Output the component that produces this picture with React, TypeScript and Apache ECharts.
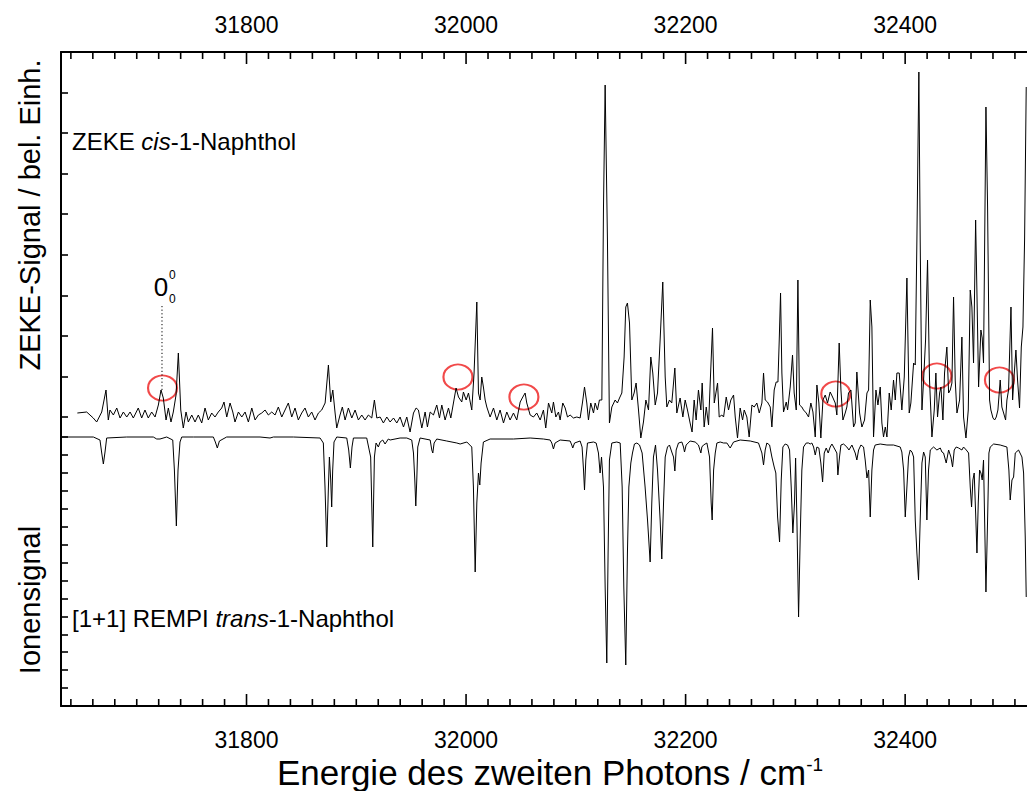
import React, { useEffect, useRef } from "react";
import * as echarts from "echarts";

const X_MIN = 31631;
const X_MAX = 32511;
const majorTicks = [31800, 32000, 32200, 32400];
const minorTicks: number[] = [];
for (let v = 31640; v <= 32500; v += 20) if (!majorTicks.includes(v)) minorTicks.push(v);

// ZEKE signal of cis-1-Naphthol (arb. units) vs. photon energy (cm^-1)
const zeke: [number, number][] = [
  [31645.9,4],[31654.4,5],[31660.4,-1],[31663.5,-5],[31668.1,5],[31672.0,27],[31674.1,-3],[31675.6,7],[31678.7,2],[31681.8,9],[31684.8,-1],[31687.8,5],[31690.9,0],[31693.9,5],[31696.9,-1],[31701.4,9],[31704.5,-1],[31707.5,7],[31710.5,-1],[31713.6,5],[31716.7,0],[31719.7,12],[31722.1,27],[31724.2,19],[31726.7,-3],[31728.8,9],[31731.2,-5],[31733.3,5],[31735.8,22],[31737.9,64],[31740.1,7],[31742.4,-11],[31744.9,5],[31747.0,-5],[31750.1,2],[31753.1,-5],[31756.1,2],[31759.2,-6],[31762.2,9],[31765.2,-3],[31768.3,4],[31771.3,0],[31774.3,5],[31777.4,9],[31779.5,15],[31782.0,0],[31785.0,14],[31787.5,5],[31789.5,-5],[31792.6,5],[31795.7,0],[31798.7,5],[31801.7,-5],[31804.8,9],[31807.8,-3],[31810.8,2],[31813.9,4],[31816.9,7],[31819.9,2],[31823.0,5],[31826.0,2],[31829.0,10],[31832.1,0],[31835.1,7],[31838.1,14],[31841.2,0],[31844.2,9],[31847.2,-3],[31850.3,4],[31853.3,9],[31856.3,0],[31859.4,5],[31862.4,-3],[31865.5,4],[31868.5,7],[31871.6,14],[31874.6,52],[31876.7,15],[31878.6,27],[31880.7,4],[31882.2,-11],[31885.2,2],[31887.3,10],[31889.8,-3],[31892.8,9],[31895.9,-1],[31898.9,7],[31901.9,-3],[31905.0,2],[31908.0,-3],[31911.0,2],[31914.1,-1],[31916.5,17],[31918.7,-1],
  [31921.7,0],[31924.7,-6],[31927.8,0],[31930.8,-5],[31933.9,-1],[31936.9,-6],[31939.9,0],[31943.0,-10],[31946.0,0],[31949.0,-15],[31952.1,4],[31954.5,9],[31956.6,7],[31959.7,-11],[31962.7,5],[31964.8,-10],[31967.3,5],[31970.3,2],[31973.3,12],[31975.8,-1],[31977.9,12],[31980.9,-3],[31984.0,9],[31986.1,-1],[31988.5,14],[31990.9,29],[31993.1,20],[31996.1,15],[31997.6,25],[32000.1,17],[32002.2,24],[32005.2,7],[32007.3,44],[32009.8,115],[32011.3,24],[32012.8,17],[32014.3,40],[32015.8,30],[32017.4,17],[32018.9,10],[32021.9,0],[32025.0,9],[32028.0,-3],[32031.0,7],[32034.1,-6],[32037.1,5],[32040.1,-3],[32043.2,4],[32046.2,-3],[32049.3,15],[32051.7,20],[32053.8,24],[32055.3,14],[32058.4,2],[32061.4,0],[32064.4,4],[32067.5,-3],[32070.5,7],[32072.6,-11],[32075.1,14],[32078.1,4],[32079.6,15],[32081.8,0],[32084.2,5],[32085.7,-3],[32088.1,14],[32090.3,9],[32092.4,0],[32094.8,2],[32097.8,-1],[32100.9,0],[32103.9,-1],[32106.0,14],[32107.9,30],[32110.0,14],[32111.5,-3],[32113.6,14],[32116.1,4],[32117.6,14],[32119.7,7],[32121.5,17],[32123.7,17],[32125.2,210],[32126.7,332],[32128.8,177],[32130.6,-6],[32132.8,10],[32135.8,17],[32137.9,14],[32139.8,19],[32141.9,24],[32144.0,60],[32145.5,110],[32147.0,114],[32148.9,94],[32151.0,17],[32153.1,24],[32154.9,34],[32157.1,7],[32159.2,-21],[32161.6,-5],[32163.8,17],[32166.2,7],[32168.3,60],[32170.1,44],[32172.3,12],[32174.4,24],[32176.8,77],[32179.2,135],[32181.4,40],[32182.9,10],[32185.3,17],[32187.4,14],[32190.2,49],[32192.0,4],[32195.0,19],[32197.5,0],[32199.6,17],[32201.7,7],[32204.1,-6],[32205.9,-15],[32207.8,17],[32209.6,-3],[32211.7,27],[32213.9,7],[32215.1,34],
  [32216.9,-10],[32218.8,10],[32220.9,-8],[32222.4,34],[32224.5,89],[32226.1,14],[32227.6,24],[32229.1,34],[32230.6,0],[32233.0,2],[32234.6,0],[32237.0,20],[32239.1,7],[32241.2,17],[32243.7,22],[32245.2,0],[32247.3,-21],[32249.7,9],[32251.9,-3],[32253.4,7],[32255.8,0],[32257.9,-20],[32260.4,12],[32262.5,10],[32264.9,14],[32267.1,4],[32269.5,14],[32271.0,44],[32272.5,17],[32274.6,15],[32277.1,10],[32278.6,-10],[32280.7,27],[32282.5,35],[32284.1,35],[32285.3,77],[32286.5,124],[32287.7,44],[32289.2,5],[32291.7,15],[32292.9,7],[32295.3,30],[32297.4,62],[32298.9,24],[32300.8,7],[32302.3,137],[32303.8,12],[32305.9,10],[32307.4,7],[32309.9,4],[32312.0,0],[32314.1,14],[32316.0,5],[32318.1,-20],[32319.6,32],[32321.4,14],[32323.2,-21],[32325.1,17],[32327.2,22],[32329.3,14],[32331.7,25],[32333.9,20],[32336.3,14],[32337.8,2],[32339.9,74],[32341.5,27],[32343.3,-3],[32345.4,4],[32346.9,10],[32348.4,24],[32350.6,27],[32353.0,-10],[32354.5,-6],[32356.0,45],[32358.5,4],[32360.6,-10],[32363.0,-3],[32365.2,24],[32366.7,27],[32368.2,117],[32369.7,90],[32371.2,-20],[32373.4,27],[32375.2,12],[32377.3,30],[32378.8,-6],[32380.3,-20],[32381.9,-10],[32383.4,-20],[32385.5,24],[32387.3,7],[32389.4,37],[32391.0,17],[32392.5,44],[32394.6,44],[32397.0,7],[32399.2,40],[32401.6,139],[32403.7,4],[32405.2,14],[32407.7,54],[32409.2,52],[32410.7,177],[32412.5,345],[32413.7,177],[32415.3,7],[32416.8,37],[32418.6,77],[32420.4,157],[32422.2,37],[32424.4,-20],[32426.5,7],[32428.0,44],[32429.5,0],[32431.4,24],[32432.6,30],[32434.4,-3],[32435.9,44],[32438.0,70],[32439.6,24],[32441.1,27],[32442.6,34],[32444.1,120],[32445.6,37],[32447.2,4],[32449.6,17],[32451.7,80],[32453.2,0],[32455.4,-21],[32457.5,7],[32459.3,127],[32460.8,110],[32462.3,54],[32464.2,197],[32465.4,124],[32466.9,30],[32469.0,87],[32470.2,79],[32471.4,54],[32473.6,310],[32475.1,210],[32476.9,17],[32478.1,7],[32480.0,-1],[32481.5,-3],[32483.0,0],[32484.5,7],[32486.6,37],[32488.1,10],[32489.7,4],[32491.5,-3],[32492.7,17],[32494.2,27],[32496.4,110],[32497.9,17],[32499.4,44],[32500.9,67],[32502.4,37],[32504.2,9],[32505.8,70],[32507.3,90],[32508.8,177],[32510.3,330]
];

// [1+1] REMPI ion signal of trans-1-Naphthol (arb. units, drawn downwards)
const rempi: [number, number][] = [
  [31631,0],[31660.5,0],[31666.5,-3],[31668.1,-16],[31669.6,-27],[31671.1,-15],[31672.6,-1],[31690.8,0],[31715.1,0],[31718.2,-2],[31721.2,-2],[31727.3,0],[31732.8,-3],[31734.3,-33],[31736.1,-89],[31737.6,-33],[31739.4,-5],[31741.0,0],[31751.6,0],[31769.8,0],[31771.6,-5],[31773.4,-11],[31775.3,-4],[31781.9,0],[31812.3,0],[31821.4,-1],[31824.5,0],[31842.7,0],[31867.0,-1],[31870.0,-6],[31871.5,-50],[31873.1,-110],[31874.6,-50],[31875.5,-20],[31876.7,-43],[31877.6,-70],[31878.5,-33],[31879.7,-5],[31882.2,0],[31891.3,-1],[31893.1,-13],[31894.6,-31],[31896.1,-10],[31897.4,-1],[31909.5,-1],[31913.1,-20],[31915.0,-110],[31916.5,-20],[31918.0,-6],[31920.1,-10],[31921.7,-5],[31924.1,-3],[31926.2,-7],[31929.2,-2],[31930.8,-3],[31939.9,-1],[31946.0,-1],[31950.5,-3],[31952.1,-16],[31953.3,-43],[31954.2,-69],[31955.1,-43],[31956.0,-10],[31958.1,-1],[31967.3,-3],[31968.8,-13],[31969.7,-16],[31970.9,-6],[31973.3,-2],[31982.4,-4],[31991.6,-6],[31994.6,-7],[32000.7,-5],[32005.2,-10],[32006.7,-50],[32008.3,-135],[32009.8,-66],[32011.3,-36],[32012.5,-48],[32013.7,-26],[32015.8,-5],[32021.9,-2],[32043.2,-2],[32058.4,-1],[32070.5,-2],[32076.6,-3],[32078.1,-6],[32079.6,-12],[32081.1,-6],[32085.7,-3],[32094.8,-4],[32096.3,-8],[32097.2,-11],[32098.8,-6],[32103.9,-4],[32105.7,-10],[32107.0,-33],[32107.9,-53],[32109.1,-23],[32110.6,-6],[32116.1,-5],[32118.5,-6],[32120.6,-16],[32122.1,-36],[32123.4,-20],[32125.2,-50],[32126.7,-150],[32128.2,-226],[32129.4,-116],[32130.6,-23],[32132.8,-6],[32137.3,-5],[32140.4,-6],[32142.2,-50],[32143.7,-150],[32145.5,-228],[32147.0,-116],[32148.3,-50],[32150.1,-26],[32151.6,-16],[32153.4,-7],[32155.6,-6],[32158.0,-8],[32160.4,-16],[32163.1,-50],[32165.3,-83],[32167.7,-125],[32169.2,-66],[32170.7,-20],[32172.6,-8],[32174.4,-33],[32176.8,-83],[32178.3,-122],[32179.9,-66],[32181.4,-20],[32183.5,-10],[32185.3,-8],[32187.4,-15],[32189.0,-20],[32190.2,-34],[32191.4,-13],[32193.5,-6],[32196.6,-5],[32198.1,-10],[32199.0,-15],[32200.5,-8],[32204.1,-4],[32208.7,-5],[32211.7,-8],[32213.9,-16],[32214.8,-10],[32216.3,-8],[32219.4,-6],[32221.8,-20],[32223.3,-66],[32224.2,-83],[32225.5,-33],[32227.0,-16],[32228.5,-6],[32231.5,-5],[32234.6,-6],[32237.6,-6],[32240.6,-11],[32243.7,-5],[32249.7,-3],[32258.9,-4],[32266.4,-6],[32269.5,-16],[32271.0,-28],[32272.5,-13],[32274.0,-6],[32276.5,-8],[32278.6,-20],[32280.7,-30],[32282.2,-36],[32283.8,-80],[32285.6,-105],[32287.1,-43],[32288.6,-10],[32290.7,-7],[32292.9,-8],[32294.7,-13],[32296.2,-50],[32297.7,-96],[32299.2,-66],[32300.2,-21],[32301.4,-83],[32302.9,-180],[32304.4,-100],[32305.9,-33],[32307.4,-10],[32309.9,-6],[32312.0,-6],[32313.5,-7],[32315.0,-6],[32316.6,-10],[32318.1,-18],[32319.6,-10],[32321.4,-11],[32323.2,-26],[32324.8,-45],[32326.3,-16],[32328.1,-11],[32329.9,-16],[32331.7,-10],[32333.3,-7],[32334.8,-10],[32336.3,-13],[32337.8,-16],[32338.7,-38],[32340.2,-20],[32341.5,-8],[32343.9,-7],[32346.9,-10],[32348.8,-13],[32351.5,-8],[32354.5,-16],[32356.0,-23],[32357.6,-13],[32359.7,-8],[32362.1,-10],[32363.6,-23],[32365.2,-41],[32366.7,-33],[32368.2,-80],[32369.7,-33],[32371.2,-13],[32372.7,-8],[32377.3,-7],[32383.4,-8],[32389.4,-8],[32395.5,-10],[32397.0,-15],[32398.6,-33],[32400.1,-80],[32401.6,-50],[32403.1,-20],[32404.6,-13],[32406.2,-15],[32407.7,-20],[32409.2,-83],[32410.7,-116],[32412.2,-143],[32413.7,-83],[32415.3,-26],[32416.8,-15],[32418.3,-20],[32419.8,-83],[32421.3,-33],[32422.9,-13],[32425.9,-10],[32428.9,-13],[32432.0,-11],[32433.5,-15],[32435.0,-16],[32437.4,-26],[32439.6,-13],[32441.7,-20],[32443.2,-30],[32444.7,-13],[32446.5,-10],[32448.7,-11],[32451.7,-13],[32453.2,-10],[32455.7,-13],[32457.8,-16],[32459.3,-50],[32460.5,-70],[32461.7,-43],[32462.9,-36],[32464.2,-76],[32465.4,-116],[32466.6,-66],[32467.8,-33],[32469.0,-36],[32470.2,-43],[32471.4,-23],[32472.4,-83],[32473.6,-155],[32475.1,-83],[32476.3,-16],[32477.5,-10],[32480.6,-7],[32486.6,-8],[32492.7,-10],[32494.5,-33],[32495.7,-63],[32497.3,-43],[32498.8,-40],[32500.3,-16],[32503.3,-13],[32506.4,-20],[32507.9,-36],[32509.4,-100],[32510.3,-160]
];

// red markers around weak ZEKE bands
const circled: [number, number][] = [
  [31723.5, 29], [31992.6, 40], [32052.7, 20], [32336.8, 23], [32428.9, 41], [32485.9, 37]
];
// origin (0-0) band guide
const originLine: [number, number][] = [[31723, 27], [31723, 112]];

const ZEKE_MAX = 365;
const REMPI_MIN = -269;

const FONT = "'Liberation Sans', Arial, Helvetica, sans-serif";

export default function App() {
  const ref = useRef<HTMLDivElement>(null);
  useEffect(() => {
    if (!ref.current) return;
    const chart = echarts.init(ref.current, null, { renderer: "svg" });
    const frameLine = { show: true, onZero: false, lineStyle: { color: "#000", width: 2 } };
    const hiddenX = (gridIndex: number) => ({
      type: "value", gridIndex, min: X_MIN, max: X_MAX, show: false,
      axisLine: { onZero: false },
    });
    const labelAxis = (position: "top" | "bottom", margin: number) => ({
      type: "value",
      gridIndex: 0,
      position,
      min: X_MIN,
      max: X_MAX,
      axisLine: frameLine,
      axisTick: { show: false },
      axisLabel: {
        show: true, customValues: majorTicks, margin, color: "#000", fontSize: 23, fontFamily: FONT,
        formatter: (v: number) => String(v),
      },
      splitLine: { show: false },
    });
    const gridBase = { left: 61, right: 0, containLabel: false, outerBoundsMode: "none" };
    const texts: any[] = [
      {
        type: "text", x: 550, y: 772,
        style: {
          text: "{m|Energie des zweiten Photons / cm}{s|-1}",
          textAlign: "center", align: "center", textVerticalAlign: "middle", verticalAlign: "middle",
          rich: {
            m: { fontSize: 35, fontFamily: FONT, fill: "#000", color: "#000" },
            s: { fontSize: 19, fontFamily: FONT, fill: "#000", color: "#000", verticalAlign: "top" },
          },
        },
      },
      {
        type: "text", x: 72, y: 141,
        style: {
          text: "{n|ZEKE }{i|cis}{n|-1-Naphthol}",
          textVerticalAlign: "middle", verticalAlign: "middle",
          rich: {
            n: { fontSize: 24, fontFamily: FONT, fill: "#000", color: "#000" },
            i: { fontSize: 24, fontFamily: FONT, fontStyle: "italic", fill: "#000", color: "#000" },
          },
        },
      },
      {
        type: "text", x: 72, y: 618,
        style: {
          text: "{n|[1+1] REMPI }{i|trans}{n|-1-Naphthol}",
          textVerticalAlign: "middle", verticalAlign: "middle",
          rich: {
            n: { fontSize: 24, fontFamily: FONT, fill: "#000", color: "#000" },
            i: { fontSize: 24, fontFamily: FONT, fontStyle: "italic", fill: "#000", color: "#000" },
          },
        },
      },
      {
        type: "text", x: 30, y: 215, rotation: Math.PI / 2,
        style: {
          text: "ZEKE-Signal / bel. Einh.", font: `29px ${FONT}`, fill: "#000",
          textAlign: "center", align: "center", textVerticalAlign: "middle", verticalAlign: "middle",
        },
      },
      {
        type: "text", x: 30, y: 600, rotation: Math.PI / 2,
        style: {
          text: "Ionensignal", font: `29px ${FONT}`, fill: "#000",
          textAlign: "center", align: "center", textVerticalAlign: "middle", verticalAlign: "middle",
        },
      },
      {
        type: "text", x: 161, y: 287,
        style: {
          text: "0", font: `26px ${FONT}`, fill: "#000",
          textAlign: "center", align: "center", textVerticalAlign: "middle", verticalAlign: "middle",
        },
      },
      {
        type: "text", x: 169, y: 275,
        style: {
          text: "0", font: `12px ${FONT}`, fill: "#000",
          textAlign: "left", align: "left", textVerticalAlign: "middle", verticalAlign: "middle",
        },
      },
      {
        type: "text", x: 169, y: 299,
        style: {
          text: "0", font: `12px ${FONT}`, fill: "#000",
          textAlign: "left", align: "left", textVerticalAlign: "middle", verticalAlign: "middle",
        },
      },
    ];
    const option: any = {
      animation: false,
      backgroundColor: "#fff",
      grid: [
        { ...gridBase, top: 52, height: 654 },
        { ...gridBase, top: 52, height: 365 },
        { ...gridBase, top: 437, height: 269 },
      ],
      xAxis: [
        labelAxis("top", 16),
        labelAxis("bottom", 22),
        hiddenX(1),
        hiddenX(2),
      ],
      yAxis: [
        { type: "value", gridIndex: 0, min: 0, max: 1, axisLine: frameLine, axisTick: { show: false }, axisLabel: { show: false }, splitLine: { show: false } },
        {
          type: "value", gridIndex: 1, min: 0, max: ZEKE_MAX, interval: ZEKE_MAX / 9,
          axisLine: { show: false, onZero: false },
          axisTick: { show: true, inside: true, length: 7, lineStyle: { color: "#000", width: 1.6 } },
          axisLabel: { show: false }, splitLine: { show: false },
        },
        {
          type: "value", gridIndex: 2, min: REMPI_MIN, max: 0, interval: -REMPI_MIN / 15,
          axisLine: { show: false, onZero: false },
          axisTick: { show: true, inside: true, length: 7, lineStyle: { color: "#000", width: 1.6 } },
          axisLabel: { show: false }, splitLine: { show: false },
        },
      ],
      series: [
        {
          type: "line", xAxisIndex: 2, yAxisIndex: 1, data: zeke, symbol: "none", clip: false,
          lineStyle: { color: "#000", width: 1 }, silent: true,
        },
        {
          type: "line", xAxisIndex: 3, yAxisIndex: 2, data: rempi, symbol: "none", clip: false,
          lineStyle: { color: "#000", width: 1 }, silent: true,
        },
        {
          type: "line", xAxisIndex: 2, yAxisIndex: 1, data: originLine, symbol: "none", clip: false,
          lineStyle: { color: "#000", width: 1, type: [1.2, 2.4] }, silent: true,
        },
        {
          type: "scatter", xAxisIndex: 2, yAxisIndex: 1, data: circled, symbol: "circle", symbolSize: [29, 25],
          clip: false, silent: true,
          itemStyle: { color: "rgba(0,0,0,0)", borderColor: "#ee1b1b", borderWidth: 2 },
        },
      ],
      graphic: texts,
    };
    chart.setOption(option);

    // x tick marks: positions come from the chart's own x scale (convertToPixel)
    const yTop = chart.convertToPixel({ yAxisIndex: 1 } as any, ZEKE_MAX) as number;
    const yBot = chart.convertToPixel({ yAxisIndex: 2 } as any, REMPI_MIN) as number;
    const tickEls: any[] = [];
    const addTicks = (values: number[], len: number) => {
      values.forEach((v) => {
        const x = chart.convertToPixel({ xAxisIndex: 2 } as any, v) as number;
        if (!isFinite(x) || !isFinite(yTop) || !isFinite(yBot)) return;
        tickEls.push({
          type: "line", z: 100, silent: true,
          shape: { x1: x, y1: yTop, x2: x, y2: yTop + len },
          style: { stroke: "#000", lineWidth: 1.6 },
        });
        tickEls.push({
          type: "line", z: 100, silent: true,
          shape: { x1: x, y1: yBot, x2: x, y2: yBot - len },
          style: { stroke: "#000", lineWidth: 1.6 },
        });
      });
    };
    addTicks(majorTicks, 12);
    addTicks(minorTicks, 7);
    chart.setOption({ graphic: [...texts, ...tickEls] });

    return () => chart.dispose();
  }, []);
  return (
    <div
      ref={ref}
      style={{ position: "fixed", left: 0, top: 0, width: 1027, height: 791, background: "#fff" }}
    />
  );
}
